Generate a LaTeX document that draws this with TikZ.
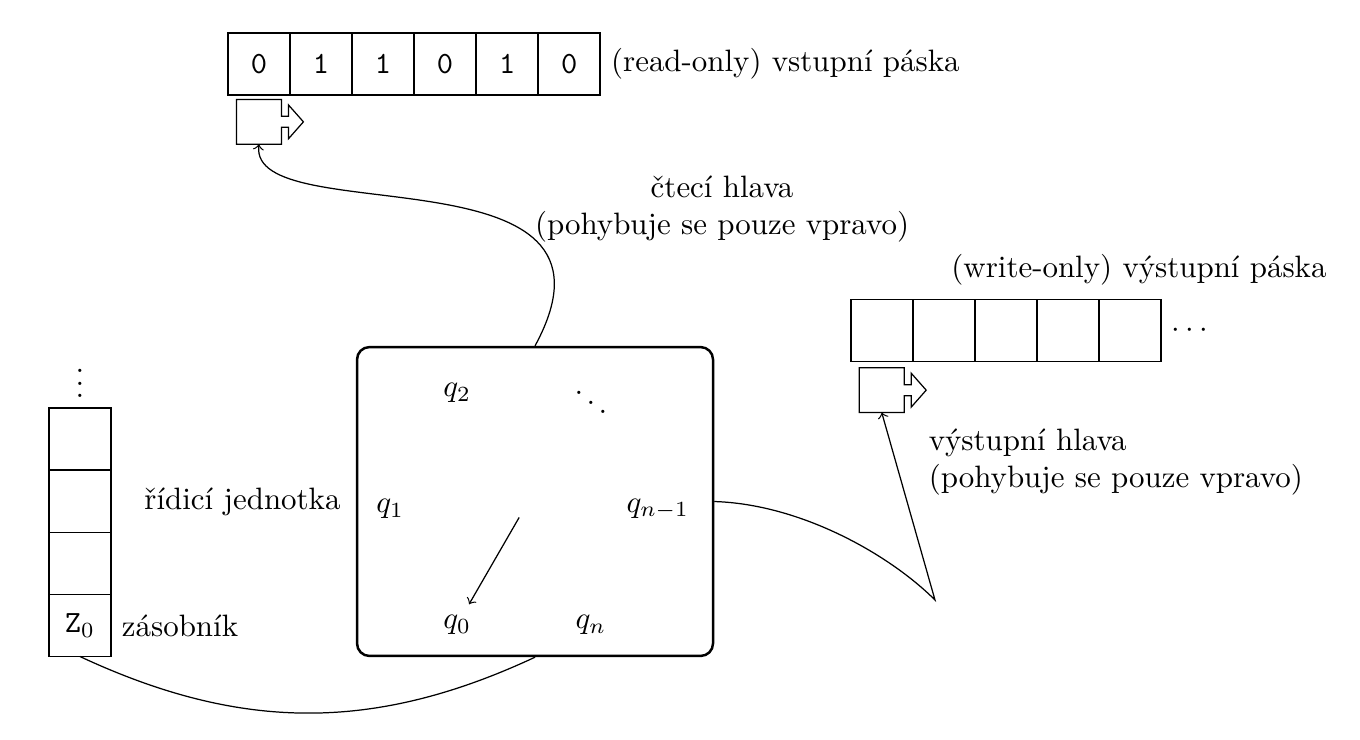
\documentclass[tikz,border=0pt]{standalone}
\usepackage{amsmath, amssymb}
\usepackage{fontspec}
\usepackage{tikz}
\usetikzlibrary{calc, positioning}

\tikzset{
	cell/.style = {draw, semithick, minimum size = 0.705cm, inner sep = 0pt, outer sep = 0pt},
	headbox/.style = {minimum size = 0.51cm, inner sep = 0pt, outer sep = 0pt},
	unit/.style = {draw, thick, rounded corners, minimum width = 4.045cm, minimum height = 3.51cm},
}

% outline of a tape head: box with an arrow to the right
\newcommand{\headoutline}[1]{%
	\draw (#1.north west) -- (#1.north east) -- ($(#1.east) + (0,0.0625)$) -- ++(0.08,0) -- ++(0,0.13) -- ++(0.17,-0.1925) -- ++(-0.17,-0.1925) -- ++(0,0.13) -- ++(-0.08,0) -- (#1.south east) -- (#1.south west) -- cycle;
}

\begin{document}
\begin{tikzpicture}
		\def\statedist{1.52};
		\def\cellw{0.705};
		
		\useasboundingbox (0,0) rectangle (15.455,-8.409);
		
		% input tape
		\begin{scope}
			\foreach \s [count = \i from 0] in {0,1,1,0,1,0}
				\node [cell, font = \ttfamily] (in\i) at ({2.943 + \i*\cellw},-0.727) {\s};
			\node [right = 0pt of in5] (inlabel) {(read-only) vstupní páska};
			\node [headbox, below = 0.05cm of in0] (rhead) {};
			\headoutline{rhead}
		\end{scope}
		
		% output tape
		\begin{scope}
			\foreach \i in {0,...,4}
				\node [cell] (out\i) at ({10.02 + \i*\cellw},-3.756) {};
			\node [right = 0pt of out4] (outdots) {$\cdots$};
			\node (outlabel) at (12.943,-3.068) {(write-only) výstupní páska};
			\node [headbox, below = 0.07cm of out0] (whead) {};
			\headoutline{whead}
		\end{scope}
		
		% stack
		\begin{scope}
			\node [cell] (st0) at (0.909,-7.108) {$\mathtt{Z}_0$};
			\foreach \i in {1,2,3}
				\node [cell] (st\i) at (0.909,{-7.108 + \i*\cellw}) {};
			\node [above = 0pt of st3] (stdots) {$\vdots$};
			\node [right = 0pt of st0] (stlabel) {zásobník};
		\end{scope}
		
		% control unit
		\begin{scope}
			\node [unit] (cu) at (6.080,-5.699) {};
			\node [left = 0.05cm of cu] (culabel) {řídicí jednotka};
			\coordinate (c) at ($(cu.center) + (-0.125,-0.085)$);
			\foreach \a/\t/\n in {0/q_{n-1}/qn1, 60/\ddots/qdots, 120/q_2/q2, 180/q_1/q1, 240/q_0/q0, 300/q_n/qn}
				\node (\n) at ($(c) + (\a:\statedist)$) {$\t$};
			\coordinate (ptr) at ($(c) + (240:0.11)$);
			\draw [->] (ptr) -- (q0);
		\end{scope}
		
		% connections
		\begin{scope}
			\draw [->] (cu.north) .. controls +(1.25,2.3) and +(-0.12,-1.0) .. (rhead.south);
			\node [align = center] (rlabel) at (8.205,-2.375) {čtecí hlava\\(pohybuje se pouze vpravo)};
			
			\coordinate (wbend) at (10.625,-6.818);
			\draw [->] (cu.east) .. controls +(0.99,-0.03) and +(-0.51,0.51) .. (wbend) -- (whead.south);
			\node [align = left, anchor = west] (wlabel) at (10.43,-5.25) {výstupní hlava\\(pohybuje se pouze vpravo)};
			
			\draw (st0.south) to [out = -25, in = -155, looseness = 1.0] (cu.south);
		\end{scope}
	\end{tikzpicture}
\end{document}
